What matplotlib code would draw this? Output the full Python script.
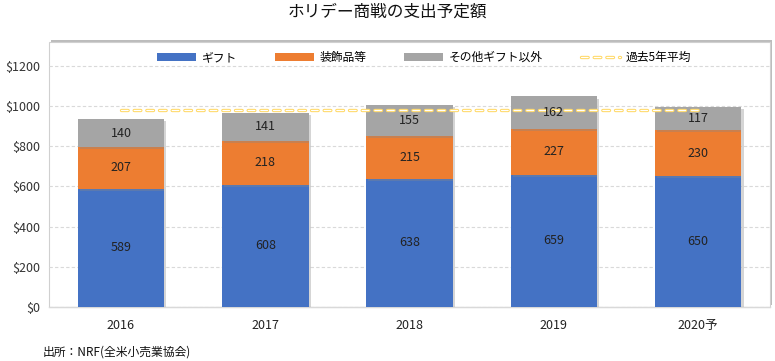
import matplotlib
matplotlib.use("Agg")
import matplotlib.pyplot as plt
import matplotlib.patheffects as pe
from matplotlib.patches import Rectangle
from matplotlib.lines import Line2D
from matplotlib.legend_handler import HandlerTuple
import numpy as np

plt.rcParams['font.family'] = ['Noto Sans CJK JP', 'DejaVu Sans']

years = ["2016", "2017", "2018", "2019", "2020予"]
gift = [589, 608, 638, 659, 650]
decor = [207, 218, 215, 227, 230]
other = [140, 141, 155, 162, 117]
avg5 = [983, 983, 983, 983, 983]
yticks = [0, 200, 400, 600, 800, 1000, 1200]

c_blue = "#4472C4"
c_orange = "#ED7D31"
c_gray = "#A5A5A5"
c_yellow = "#FFD966"

fig = plt.figure(figsize=(7.75, 3.61), dpi=100)
ax = fig.add_axes([0.063, 0.150, 0.931, 0.734])

# plot-area frame with shadow
frame = Rectangle((0.063, 0.150), 0.931, 0.734, transform=fig.transFigure,
                  facecolor="white", edgecolor="#D0D0D0", lw=0.8, zorder=-1,
                  path_effects=[pe.SimplePatchShadow(offset=(1.5, 1.5), shadow_rgbFace="#909090", alpha=0.6), pe.Normal()])
fig.patches.append(frame)
ax.set_facecolor("none")

x = np.arange(len(years))
w = 0.6
shadow = [pe.SimplePatchShadow(offset=(1.5, -1.5), shadow_rgbFace="#888888", alpha=0.35), pe.Normal()]
b1 = ax.bar(x, gift, w, color=c_blue, label="ギフト", zorder=3, path_effects=shadow)
b2 = ax.bar(x, decor, w, bottom=gift, color=c_orange, label="装飾品等", zorder=3, path_effects=shadow)
bottom2 = [g + d for g, d in zip(gift, decor)]
b3 = ax.bar(x, other, w, bottom=bottom2, color=c_gray, label="その他ギフト以外", zorder=3, path_effects=shadow)

for bars, vals, bots in [(b1, gift, [0]*5), (b2, decor, gift), (b3, other, bottom2)]:
    for xi, v, b in zip(x, vals, bots):
        ax.text(xi, b + v / 2, str(v), ha="center", va="center", fontsize=9, color="#222222", zorder=5)

olw, ilw = 2.4, 0.9
ax.plot(x, avg5, color=c_yellow, lw=olw, dashes=(2.0, 1.8), dash_capstyle="round", zorder=4)
ax.plot(x, avg5, color="white", lw=ilw, dashes=(2.0 * olw / ilw, 1.8 * olw / ilw), dash_capstyle="round", zorder=4)

ax.set_xlim(-0.5, 4.5)
ax.set_ylim(0, 1320)
ax.set_yticks(yticks)
ax.set_yticklabels([f"${v}" for v in yticks], fontsize=9, color="#333333")
ax.set_xticks(x)
ax.set_xticklabels(years, fontsize=9, color="#222222")
ax.tick_params(axis="both", length=0)
ax.tick_params(axis="x", pad=9)
ax.tick_params(axis="y", pad=6)
ax.grid(axis="y", color="#D9D9D9", lw=0.8, ls=(0, (3, 2)), zorder=0)
ax.set_axisbelow(True)
for s in ["top", "right", "left"]:
    ax.spines[s].set_visible(False)
ax.spines["bottom"].set_color("#D9D9D9")
ax.spines["bottom"].set_linewidth(1.0)

line_h = (Line2D([0], [0], color=c_yellow, lw=olw, dashes=(2.0, 1.8), dash_capstyle="round"),
          Line2D([0], [0], color="white", lw=ilw, dashes=(2.0 * olw / ilw, 1.8 * olw / ilw), dash_capstyle="round"))
handles = [
    Rectangle((0, 0), 1, 1, facecolor=c_blue),
    Rectangle((0, 0), 1, 1, facecolor=c_orange),
    Rectangle((0, 0), 1, 1, facecolor=c_gray),
    line_h,
]
labels = ["ギフト", "装飾品等", "その他ギフト以外", "過去5年平均"]
ax.legend(handles, labels, loc="upper center", bbox_to_anchor=(0.52, 1.005), ncol=4, frameon=False,
          fontsize=8.5, handlelength=3.3, handleheight=0.6, columnspacing=3.2, handletextpad=0.5,
          handler_map={tuple: HandlerTuple(ndivide=1, pad=0)})

fig.text(0.5, 0.965, "ホリデー商戦の支出予定額", ha="center", va="center", fontsize=12, color="#111111")
fig.text(0.055, 0.025, "出所：NRF(全米小売業協会)", ha="left", va="center", fontsize=8.5, color="#111111")

fig.savefig("out.png", dpi=100)
